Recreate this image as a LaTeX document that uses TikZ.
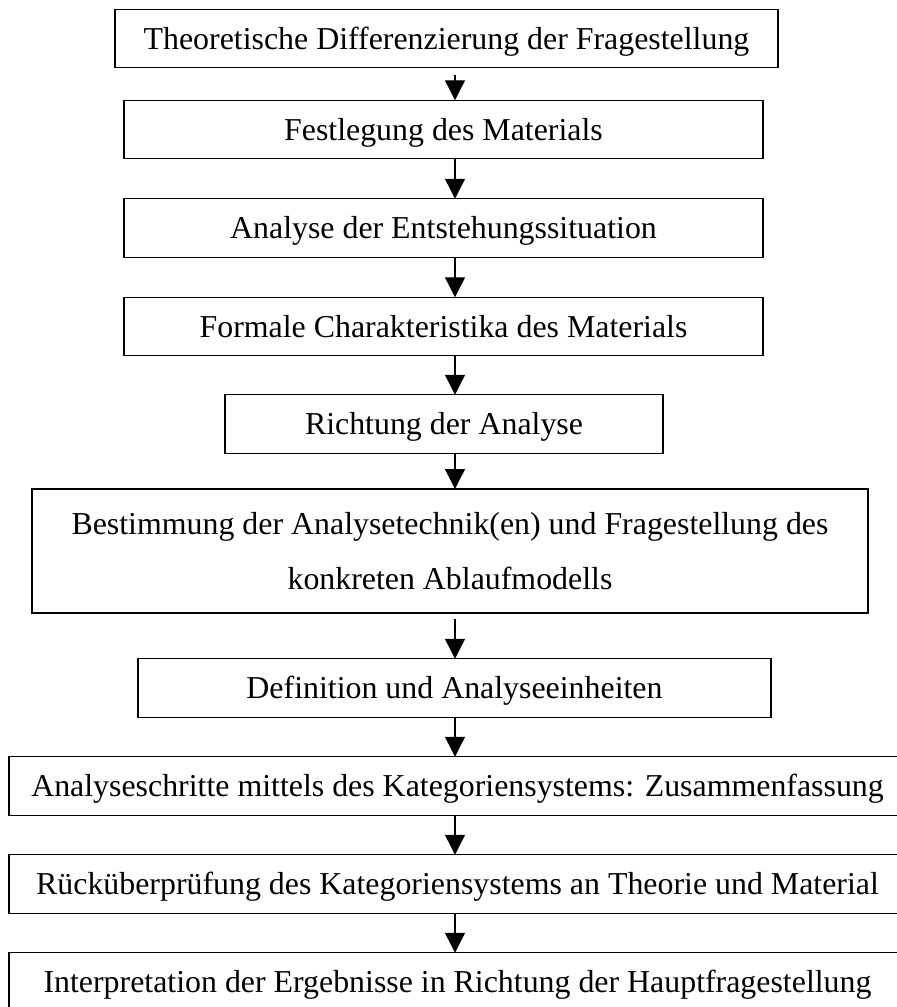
\documentclass[tikz,border=0pt]{standalone}
\usepackage{fontspec}
\setmainfont{Liberation Serif}
\usetikzlibrary{arrows.meta}

\begin{document}
\begin{tikzpicture}[x=0.4pt,y=-0.4pt,
	plainbox/.style={draw,line width=0.55pt,inner sep=0pt,outer sep=0pt,
		minimum height=23.4pt,font=\fontsize{12.75}{22}\selectfont},
	stepbox/.style={plainbox,text height=8.6pt,text depth=0pt},
	flow/.style={line width=0.55pt,-{Triangle[length=8pt,width=8pt]}}]
	\useasboundingbox (0,0) rectangle (897,1007);
	\clip (0,0) rectangle (897,1007);
	% Steps of the procedure, top to bottom
	\node[stepbox,minimum width=265.2pt] (s1) at (446.5,38.5) {Theoretische Differenzierung der Fragestellung};
	\node[stepbox,minimum width=255.6pt] (s2) at (443.5,129.5) {Festlegung des Materials};
	\node[stepbox,minimum width=255.6pt] (s3) at (443.5,228) {Analyse der Entstehungssituation};
	\node[stepbox,minimum width=255.6pt] (s4) at (443.5,326.5) {Formale Charakteristika des Materials};
	\node[stepbox,minimum width=175.2pt] (s5) at (444,424) {Richtung der Analyse};
	\node[plainbox,minimum width=334.4pt,minimum height=49.6pt,align=center] (s6) at (450,551)
		{Bestimmung der Analysetechnik(en) und Fragestellung des\\konkreten Ablaufmodells};
	\node[stepbox,minimum width=253.2pt] (s7) at (454.5,688) {Definition und Analyseeinheiten};
	% the last three boxes run past the right edge
	\node[stepbox,minimum width=358.8pt] (s8) at (457.5,786) {Analyseschritte mittels des Kategoriensystems: Zusammenfassung};
	\node[stepbox,minimum width=358.8pt] (s9) at (457.5,884) {Rücküberprüfung des Kategoriensystems an Theorie und Material};
	\node[stepbox,minimum width=358.8pt] (s10) at (457.5,982) {Interpretation der Ergebnisse in Richtung der Hauptfragestellung};
	% Arrows all sit on one vertical line
	\coordinate (ax) at (455,0);
	\draw[flow,shorten <=2.8pt] (s1.south -| ax) -- (s2.north -| ax);
	\draw[flow,shorten <=2.4pt] (s6.south -| ax) -- (s7.north -| ax);
	\foreach \a/\b in {s2/s3,s3/s4,s4/s5,s5/s6,s7/s8,s8/s9,s9/s10} {
		\draw[flow] (\a.south -| ax) -- (\b.north -| ax);
	}
\end{tikzpicture}
\end{document}
